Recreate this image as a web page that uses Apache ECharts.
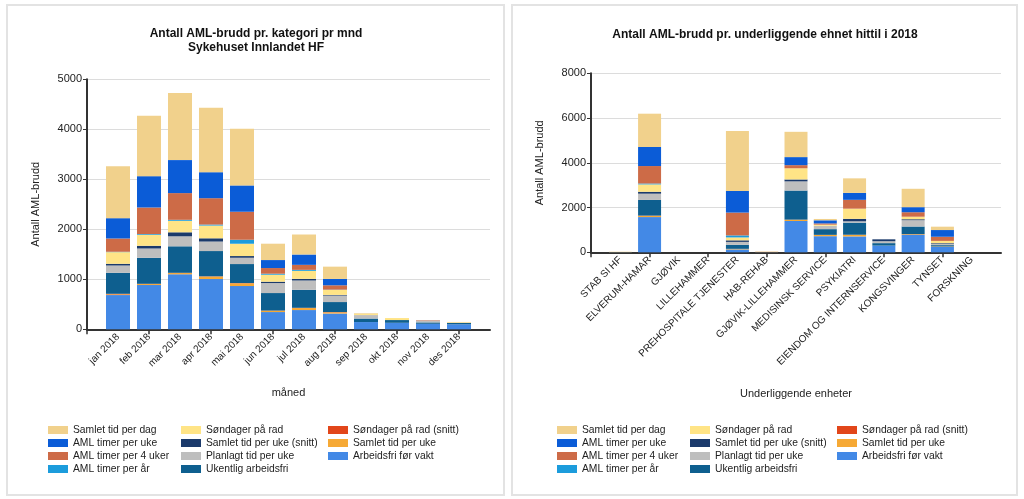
<!DOCTYPE html>
<html><head><meta charset="utf-8">
<script src="https://cdn.jsdelivr.net/npm/echarts@6/dist/echarts.min.js"></script>
<style>
html,body{margin:0;padding:0;background:#fff;width:1024px;height:499px;overflow:hidden;}
.panel{position:absolute;border:2px solid #e3e3e3;box-sizing:border-box;}
.chart{position:absolute;top:0;height:499px;}
</style></head><body>
<div class="panel" style="left:6px;top:4px;width:499px;height:492px"></div>
<div class="panel" style="left:511px;top:4px;width:507px;height:492px"></div>
<div id="c1" class="chart" style="left:0;width:512px"></div>
<div id="c2" class="chart" style="left:506px;width:518px"></div>
<script>
// ---------- categories ----------
const months = ['jan 2018','feb 2018','mar 2018','apr 2018','mai 2018','jun 2018','jul 2018','aug 2018','sep 2018','okt 2018','nov 2018','des 2018'];
const units = ['STAB SI HF','ELVERUM-HAMAR','GJØVIK','LILLEHAMMER','PREHOSPITALE TJENESTER','HAB-REHAB','GJØVIK-LILLEHAMMER','MEDISINSK SERVICE','PSYKIATRI','EIENDOM OG INTERNSERVICE','KONGSVINGER','TYNSET','FORSKNING'];
const leftTicks = [0,1000,2000,3000,4000,5000];
const rightTicks = [0,2000,4000,6000,8000];

// series names, bottom of stack first
const seriesNames = ['Arbeidsfri før vakt','Samlet tid per uke','Søndager på rad (snitt)','Ukentlig arbeidsfri','Planlagt tid per uke','Samlet tid per uke (snitt)','Søndager på rad','AML timer per år','AML timer per 4 uker','AML timer per uke','Samlet tid per dag'];
const seriesColors = ['#4389E6','#F6A935','#E2461A','#0E5F8F','#BEBEBE','#1B3A6B','#FFE486','#1C9CDC','#CD6B47','#0B5CD7','#F1D18C'];

// ---------- left chart: per month ----------
const mndArbeidsfri   = [685, 885, 1100, 1005, 865, 345, 385, 315, 145, 130, 110, 100];
const mndSamletUke    = [15, 20, 25, 50, 55, 25, 40, 25, 0, 0, 0, 0];
const mndSondagSnitt  = [10, 5, 5, 5, 5, 5, 5, 5, 0, 0, 0, 0];
const mndUkentlig     = [420, 520, 530, 505, 380, 350, 360, 200, 70, 55, 28, 27];
const mndPlanlagt     = [146, 186, 200, 190, 126, 200, 186, 130, 70, 0, 40, 0];
const mndSamletSnitt  = [34, 54, 80, 65, 34, 27, 33, 13, 0, 0, 0, 0];
const mndSondager     = [233, 220, 230, 255, 246, 140, 160, 100, 20, 40, 0, 10];
const mndAmlAar       = [8, 15, 20, 20, 80, 20, 20, 5, 0, 0, 0, 0];
const mndAml4Uker     = [265, 531, 534, 527, 560, 113, 100, 87, 0, 0, 8, 0];
const mndAmlUke       = [407, 627, 660, 520, 527, 160, 207, 127, 0, 0, 0, 0];
const mndSamletDag    = [1040, 1206, 1340, 1290, 1133, 327, 400, 246, 15, 0, 0, 10];

// ---------- right chart: per unit ----------
const enhArbeidsfri   = [5, 1575, 0, 0, 130, 5, 1400, 720, 710, 300, 780, 240, 0];
const enhSamletUke    = [0, 55, 0, 0, 20, 0, 55, 55, 70, 0, 27, 15, 0];
const enhSondagSnitt  = [0, 10, 0, 0, 5, 0, 5, 5, 5, 0, 5, 5, 0];
const enhUkentlig     = [0, 700, 0, 0, 180, 0, 1300, 255, 540, 110, 340, 60, 0];
const enhPlanlagt     = [0, 280, 0, 0, 130, 0, 410, 150, 60, 85, 283, 60, 0];
const enhSamletSnitt  = [0, 85, 0, 0, 70, 0, 85, 0, 110, 85, 43, 30, 0];
const enhSondager     = [5, 330, 0, 0, 130, 5, 500, 50, 455, 0, 113, 100, 0];
const enhAmlAar       = [0, 40, 0, 0, 90, 0, 0, 0, 0, 0, 0, 0, 0];
const enhAml4Uker     = [0, 780, 0, 0, 1020, 10, 140, 55, 395, 0, 200, 185, 0];
const enhAmlUke       = [0, 850, 0, 0, 966, 0, 360, 140, 310, 0, 226, 300, 0];
const enhSamletDag    = [15, 1490, 0, 0, 2675, 15, 1130, 60, 650, 0, 822, 150, 0];

const monthData = [mndArbeidsfri, mndSamletUke, mndSondagSnitt, mndUkentlig, mndPlanlagt, mndSamletSnitt, mndSondager, mndAmlAar, mndAml4Uker, mndAmlUke, mndSamletDag];
const unitData  = [enhArbeidsfri, enhSamletUke, enhSondagSnitt, enhUkentlig, enhPlanlagt, enhSamletSnitt, enhSondager, enhAmlAar, enhAml4Uker, enhAmlUke, enhSamletDag];

// legend columns (column-major, as in the reference)
const legendCols = [
  ['Samlet tid per dag','AML timer per uke','AML timer per 4 uker','AML timer per år'],
  ['Søndager på rad','Samlet tid per uke (snitt)','Planlagt tid per uke','Ukentlig arbeidsfri'],
  ['Søndager på rad (snitt)','Samlet tid per uke','Arbeidsfri før vakt']
];

const FONT = '"Liberation Sans", Arial, sans-serif';
const TXT = '#222';
const pad = a => [null].concat(a, [null]);

function buildOption(cfg) {
  const nCat = cfg.cats.length + 2;
  const series = seriesNames.map((n, i) => ({
    name: n, type: 'bar', stack: 'all',
    barWidth: cfg.barWidth,
    itemStyle: { color: seriesColors[i] },
    data: pad(cfg.data[i])
  }));
  const legends = legendCols.map((col, k) => ({
    orient: 'vertical', left: cfg.legendLeft[k], top: 424, padding: 0,
    itemWidth: 20, itemHeight: 8, itemGap: 1, icon: 'rect',
    textStyle: { fontSize: 10.3, color: TXT, fontFamily: FONT, lineHeight: 12 },
    data: col
  }));
  return {
    animation: false,
    textStyle: { fontFamily: FONT },
    title: {
      text: cfg.title, left: 'center', top: cfg.titleTop,
      textStyle: { fontSize: 12, fontWeight: 'bold', color: '#111', fontFamily: FONT, lineHeight: 14 }
    },
    legend: legends,
    grid: cfg.grid,
    xAxis: {
      type: 'category', boundaryGap: false,
      data: [''].concat(cfg.cats, ['']),
      name: cfg.xName, nameLocation: 'middle', nameGap: cfg.xNameGap,
      nameTextStyle: { fontSize: 11, color: TXT, fontFamily: FONT },
      axisLine: { lineStyle: { color: '#333', width: 2 } },
      axisTick: { show: true, length: 5, interval: (i) => i % 2 === 0 && i < nCat - 1, lineStyle: { color: '#333', width: 1.5 } },
      axisLabel: { interval: 0, rotate: 45, fontSize: 10, color: TXT, margin: 6, fontFamily: FONT },
      splitLine: { show: false }
    },
    yAxis: {
      type: 'value', min: cfg.yTicks[0], max: cfg.yTicks[cfg.yTicks.length - 1],
      interval: cfg.yTicks[1] - cfg.yTicks[0],
      name: 'Antall AML-brudd', nameLocation: 'middle', nameGap: 46,
      nameTextStyle: { fontSize: 11, color: TXT, fontFamily: FONT },
      axisLine: { show: true, lineStyle: { color: '#333', width: 2 } },
      axisTick: { show: true, length: 4, lineStyle: { color: '#333' } },
      axisLabel: { fontSize: 11, color: TXT, margin: 5, fontFamily: FONT, formatter: v => String(v) },
      splitLine: { lineStyle: { color: '#dcdcdc', width: 1 } }
    },
    series: series
  };
}

const c1 = echarts.init(document.getElementById('c1'), null, { renderer: 'canvas' });
c1.setOption(buildOption({
  title: 'Antall AML-brudd pr. kategori pr mnd\nSykehuset Innlandet HF', titleTop: 22,
  grid: { left: 87, right: 22, top: 79.3, bottom: 169.7 },
  cats: months, data: monthData, barWidth: 24,
  yTicks: leftTicks, xName: 'måned', xNameGap: 58,
  legendLeft: [48, 181, 328]
}));

const c2 = echarts.init(document.getElementById('c2'), null, { renderer: 'canvas' });
c2.setOption(buildOption({
  title: 'Antall AML-brudd pr. underliggende ehnet hittil i 2018', titleTop: 23,
  grid: { left: 85, right: 23, top: 73.3, bottom: 246.7 },
  cats: units, data: unitData, barWidth: 23,
  yTicks: rightTicks, xName: 'Underliggende enheter', xNameGap: 136,
  legendLeft: [51, 184, 331]
}));
</script>
</body></html>
